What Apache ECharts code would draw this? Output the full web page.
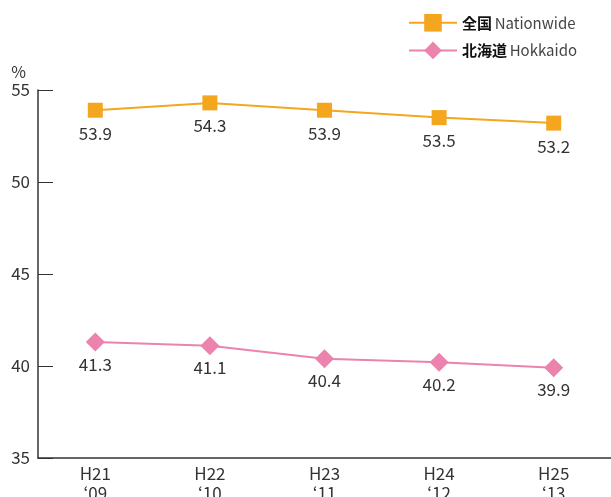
<!DOCTYPE html>
<html>
<head>
<meta charset="utf-8">
<script src="https://cdn.jsdelivr.net/npm/echarts@6/dist/echarts.min.js"></script>
<style>
  html, body { margin: 0; padding: 0; background: #fff; }
  #chart { width: 611px; height: 497px; }
</style>
</head>
<body>
<div id="chart"></div>
<script>
const categories = ['H21\n\u201809', 'H22\n\u201810', 'H23\n\u201811', 'H24\n\u201812', 'H25\n\u201813']
const nationwide = [53.9, 54.3, 53.9, 53.5, 53.2]
const hokkaido = [41.3, 41.1, 40.4, 40.2, 39.9]
const yTicks = { min: 35, max: 55, interval: 5 }

const font = '"Noto Sans CJK JP", "Noto Sans", sans-serif'
const orange = '#F4A61E'
const pink = '#EC82AE'

const chart = echarts.init(document.getElementById('chart'))

const labelStyle = (dist) => ({
  show: true,
  position: 'bottom',
  distance: dist,
  fontSize: 17,
  color: '#333',
  fontFamily: font
})

chart.setOption({
  animation: false,
  textStyle: { fontFamily: font },
  grid: { left: 38, right: 0, top: 90, bottom: 39, containLabel: false, outerBoundsMode: 'none' },
  legend: {
    orient: 'vertical',
    left: 403,
    top: 9,
    itemWidth: 48,
    itemHeight: 22,
    itemGap: 10,
    data: ['nat', 'hok'],
    formatter: name => name === 'nat'
      ? '{jp|全国} {en|Nationwide}'
      : '{jp|北海道} {en|Hokkaido}',
    textStyle: {
      rich: {
        jp: { fontSize: 15, color: '#111', fontWeight: 'bold', fontFamily: font },
        en: { fontSize: 15, color: '#444', fontFamily: font }
      }
    }
  },
  xAxis: {
    type: 'category',
    data: categories,
    boundaryGap: true,
    axisLine: { lineStyle: { color: '#333', width: 1.5 } },
    axisTick: { inside: true, length: 9, lineStyle: { color: '#333' } },
    axisLabel: { fontSize: 17, color: '#333', lineHeight: 20, margin: 6, fontFamily: font }
  },
  yAxis: {
    type: 'value',
    min: yTicks.min,
    max: yTicks.max,
    interval: yTicks.interval,
    name: '%',
    nameLocation: 'end',
    nameGap: 10,
    nameTextStyle: { fontSize: 16, color: '#333', align: 'right', padding: [0, 12, 0, 0] },
    axisLine: { show: true, lineStyle: { color: '#333', width: 1.5 } },
    axisTick: { show: true, inside: true, length: 15, lineStyle: { color: '#333' } },
    axisLabel: { fontSize: 17, color: '#333', margin: 8, fontFamily: font },
    splitLine: { show: false }
  },
  series: [
    {
      name: 'nat',
      type: 'line',
      data: nationwide,
      symbol: 'rect',
      symbolSize: 15,
      itemStyle: { color: orange },
      lineStyle: { color: orange, width: 2 },
      label: labelStyle(7)
    },
    {
      name: 'hok',
      type: 'line',
      data: hokkaido,
      symbol: 'diamond',
      symbolSize: 19,
      itemStyle: { color: pink },
      lineStyle: { color: pink, width: 2 },
      label: labelStyle(4)
    }
  ]
})
</script>
</body>
</html>
